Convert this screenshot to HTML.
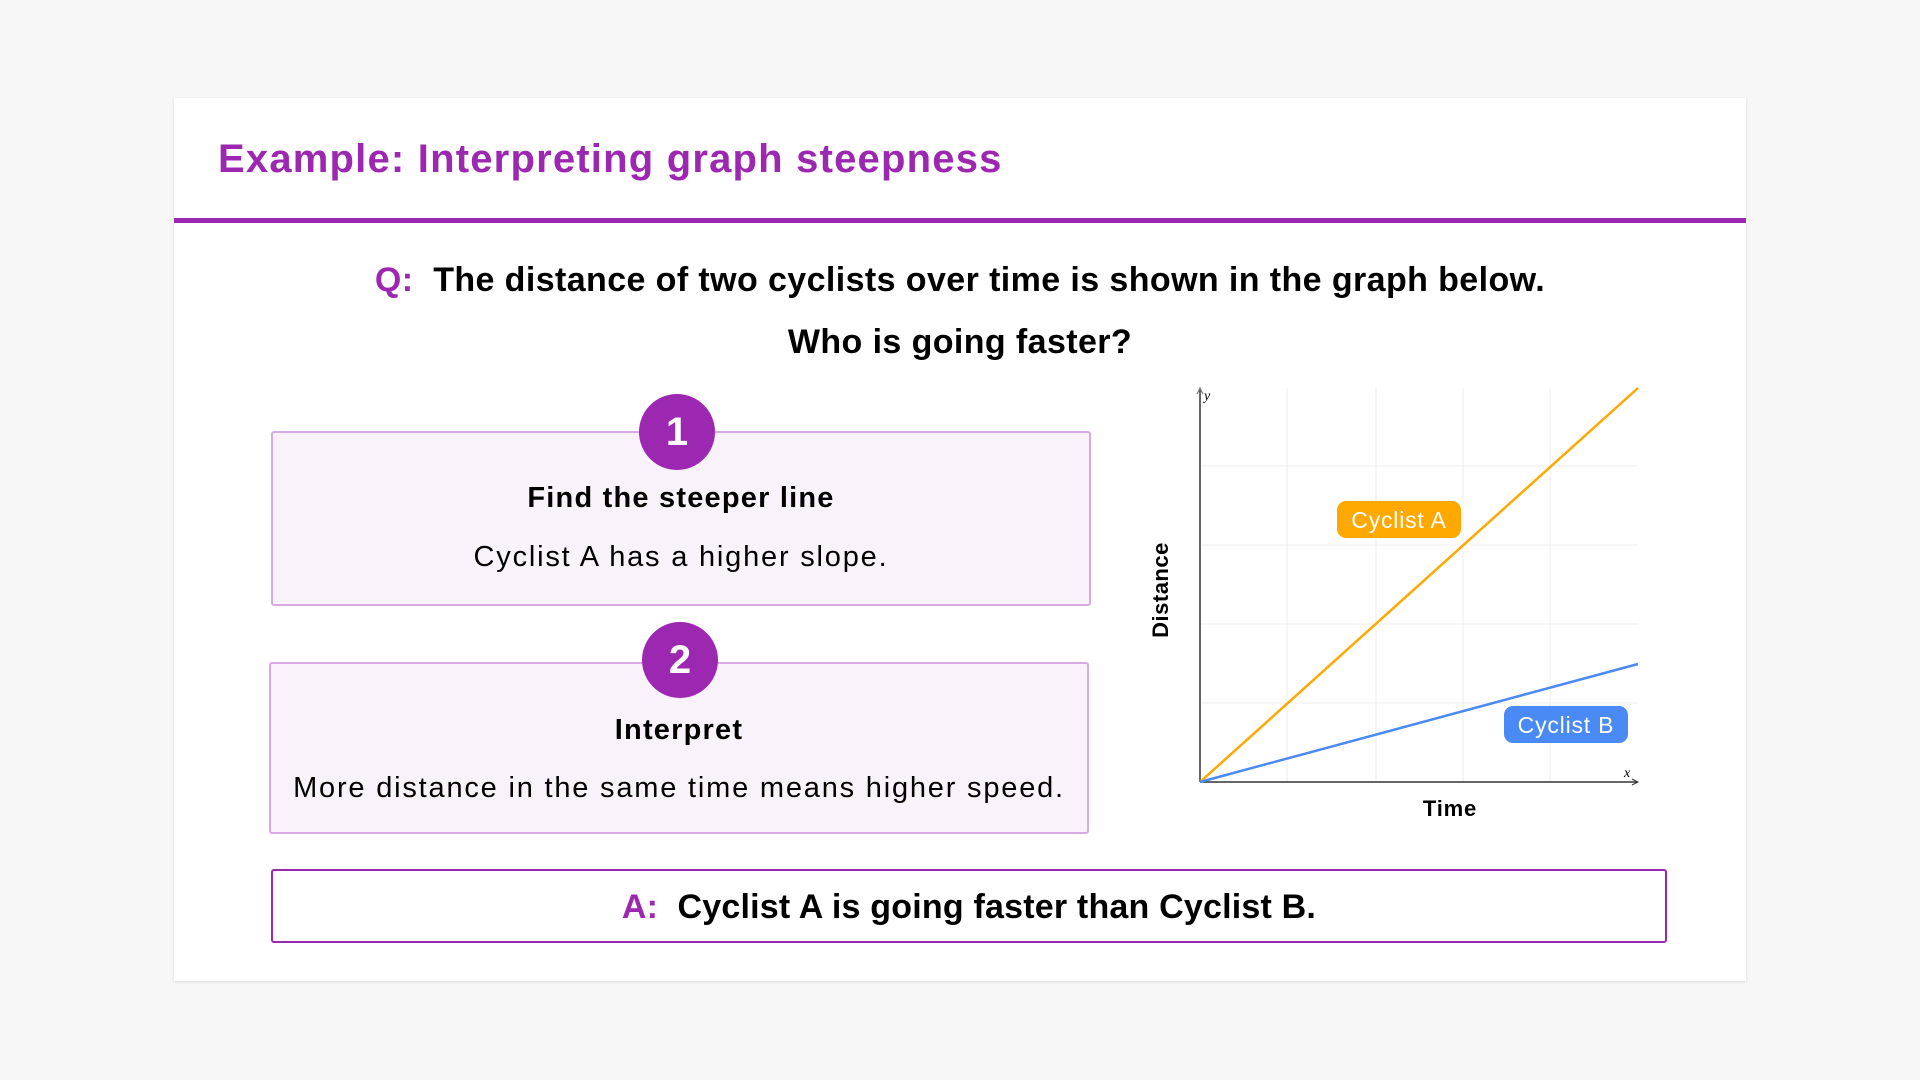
<!DOCTYPE html>
<html><head><meta charset="utf-8"><style>
html,body{margin:0;padding:0;width:1920px;height:1080px;background:#f7f7f7;overflow:hidden;font-family:"Liberation Sans",sans-serif;}
.card{position:absolute;left:174px;top:98px;width:1572px;height:883px;background:#fff;box-shadow:0 1px 3px rgba(0,0,0,0.12);}
.abs{position:absolute;white-space:nowrap;}
.title{left:44px;top:39px;font-size:40px;font-weight:bold;color:#9c27b0;letter-spacing:1.2px;}
.rule{left:0;top:120px;width:1572px;height:5px;background:#9c27b0;}
.q{left:0;width:1572px;text-align:center;font-size:34px;font-weight:bold;color:#000;letter-spacing:0.4px;}
.box{position:absolute;background:#f8f3fa;border:2px solid #d9a9e3;border-radius:3px;box-sizing:border-box;}
.circ{position:absolute;width:76px;height:76px;border-radius:50%;background:#9c27b0;color:#fff;font-weight:bold;font-size:40px;text-align:center;line-height:76px;}
.h{position:absolute;left:0;width:100%;text-align:center;font-weight:bold;font-size:29px;letter-spacing:1.2px;}
.t{position:absolute;left:0;width:100%;text-align:center;font-size:29px;letter-spacing:1.8px;}
.ans{position:absolute;left:97px;top:771px;width:1396px;height:74px;border:2px solid #9c27b0;border-radius:3px;box-sizing:border-box;text-align:center;font-size:34px;font-weight:bold;line-height:72px;letter-spacing:0.2px;}
.p{color:#9c27b0;}
</style></head><body>
<div class="card">
<div class="abs title">Example: Interpreting graph steepness</div>
<div class="abs rule"></div>
<div class="abs q" style="top:163px;"><span class="p">Q:</span>&nbsp;&nbsp;The distance of two cyclists over time is shown in the graph below.</div>
<div class="abs q" style="top:225px;">Who is going faster?</div>

<div class="box" style="left:97px;top:333px;width:820px;height:175px;">
<div class="h" style="top:49px;">Find the steeper line</div>
<div class="t" style="top:108px;">Cyclist A has a higher slope.</div>
</div>
<div class="circ" style="left:465px;top:296px;">1</div>

<div class="box" style="left:95px;top:564px;width:820px;height:172px;">
<div class="h" style="top:50px;">Interpret</div>
<div class="t" style="top:108px;">More distance in the same time means higher speed.</div>
</div>
<div class="circ" style="left:468px;top:524px;">2</div>

<div class="ans"><span class="p">A:</span>&nbsp;&nbsp;Cyclist A is going faster than Cyclist B.</div>
</div>

<svg width="1920" height="1080" style="position:absolute;left:0;top:0;" xmlns="http://www.w3.org/2000/svg">
<g stroke="#ececec" stroke-width="1">
<line x1="1287" y1="388" x2="1287" y2="782"/><line x1="1376" y1="388" x2="1376" y2="782"/>
<line x1="1463" y1="388" x2="1463" y2="782"/><line x1="1550" y1="388" x2="1550" y2="782"/>
<line x1="1200" y1="466" x2="1638" y2="466"/><line x1="1200" y1="545" x2="1638" y2="545"/>
<line x1="1200" y1="624" x2="1638" y2="624"/><line x1="1200" y1="703" x2="1638" y2="703"/>
</g>
<line x1="1200" y1="782" x2="1200" y2="390" stroke="#666" stroke-width="2"/>
<line x1="1200" y1="782" x2="1637" y2="782" stroke="#333" stroke-width="1.5"/>
<path d="M1197,394 L1200,388 L1203,394" fill="none" stroke="#666" stroke-width="1"/>
<path d="M1632,779 L1638,782 L1632,785" fill="none" stroke="#333" stroke-width="1"/>
<text x="1204" y="400" font-family="Liberation Serif" font-style="italic" font-size="14">y</text>
<text x="1624" y="777" font-family="Liberation Serif" font-style="italic" font-size="14">x</text>
<line x1="1200" y1="782" x2="1638" y2="388" stroke="#ffa800" stroke-width="2.5"/>
<line x1="1200" y1="782" x2="1638" y2="664" stroke="#4a8af4" stroke-width="2.5"/>
<rect x="1337" y="501" width="124" height="37" rx="9" fill="#ffa800"/>
<text x="1399" y="528" text-anchor="middle" fill="#fff" font-family="Liberation Sans" font-size="23" letter-spacing="0.8">Cyclist A</text>
<rect x="1504" y="706" width="124" height="37" rx="9" fill="#4a8af4"/>
<text x="1566" y="733" text-anchor="middle" fill="#fff" font-family="Liberation Sans" font-size="23" letter-spacing="0.8">Cyclist B</text>
<text x="1450" y="816" text-anchor="middle" font-family="Liberation Sans" font-weight="bold" font-size="22" letter-spacing="0.8">Time</text>
<text transform="translate(1168,590) rotate(-90)" text-anchor="middle" font-family="Liberation Sans" font-weight="bold" font-size="22" letter-spacing="0.5">Distance</text>
</svg>
</body></html>
